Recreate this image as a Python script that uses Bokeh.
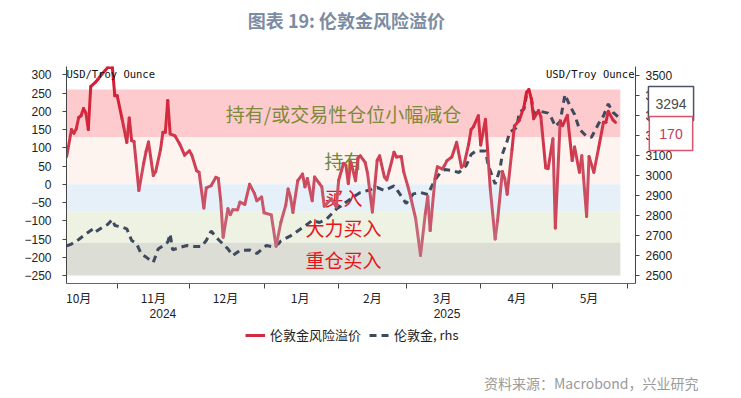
import numpy as np
import pandas as pd
from bokeh.plotting import figure
from bokeh.layouts import column
from bokeh.models import (Range1d, LinearAxis, DatetimeAxis, FixedTicker, Label, Div,
                          Legend, LegendItem, ColumnDataSource)
from bokeh.transform import linear_cmap
from bokeh.core.properties import value
from bokeh.embed import file_html
from bokeh.resources import INLINE

# ---------------- data ----------------
premium_dates = [
    "2024-10-11", "2024-10-13", "2024-10-14", "2024-10-15", "2024-10-16", "2024-10-17",
    "2024-10-18", "2024-10-19", "2024-10-20", "2024-10-21", "2024-10-23", "2024-10-24",
    "2024-10-25", "2024-10-27", "2024-10-28", "2024-10-30", "2024-10-31", "2024-11-01",
    "2024-11-03", "2024-11-05", "2024-11-06", "2024-11-07", "2024-11-08", "2024-11-10",
    "2024-11-12", "2024-11-13", "2024-11-14", "2024-11-16", "2024-11-17", "2024-11-19",
    "2024-11-20", "2024-11-21", "2024-11-22", "2024-11-23", "2024-11-25", "2024-11-27",
    "2024-11-29", "2024-12-01", "2024-12-02", "2024-12-04", "2024-12-05", "2024-12-07",
    "2024-12-08", "2024-12-10", "2024-12-12", "2024-12-13", "2024-12-14", "2024-12-15",
    "2024-12-17", "2024-12-18", "2024-12-19", "2024-12-21", "2024-12-22", "2024-12-24",
    "2024-12-26", "2024-12-28", "2024-12-29", "2024-12-31", "2025-01-01", "2025-01-04",
    "2025-01-06", "2025-01-08", "2025-01-10", "2025-01-11", "2025-01-12", "2025-01-13",
    "2025-01-15", "2025-01-17", "2025-01-18", "2025-01-19", "2025-01-21", "2025-01-22",
    "2025-01-24", "2025-01-25", "2025-01-26", "2025-01-29", "2025-01-31", "2025-02-01",
    "2025-02-03", "2025-02-04", "2025-02-05", "2025-02-06", "2025-02-08", "2025-02-09",
    "2025-02-10", "2025-02-12", "2025-02-13", "2025-02-15", "2025-02-16", "2025-02-17",
    "2025-02-18", "2025-02-20", "2025-02-21", "2025-02-22", "2025-02-24", "2025-02-25",
    "2025-02-27", "2025-02-28", "2025-03-02", "2025-03-03", "2025-03-05", "2025-03-07",
    "2025-03-09", "2025-03-10", "2025-03-11", "2025-03-13", "2025-03-14", "2025-03-16",
    "2025-03-17", "2025-03-18", "2025-03-20", "2025-03-22", "2025-03-24", "2025-03-25",
    "2025-03-27", "2025-03-28", "2025-03-29", "2025-03-31", "2025-04-01", "2025-04-03",
    "2025-04-04", "2025-04-05", "2025-04-07", "2025-04-08", "2025-04-10", "2025-04-11",
    "2025-04-12", "2025-04-14", "2025-04-15", "2025-04-17", "2025-04-19", "2025-04-20",
    "2025-04-21", "2025-04-22", "2025-04-23", "2025-04-25", "2025-04-26", "2025-04-28",
    "2025-04-29", "2025-05-01", "2025-05-02", "2025-05-04", "2025-05-05", "2025-05-07",
    "2025-05-09", "2025-05-10", "2025-05-12", "2025-05-13", "2025-05-15", "2025-05-16",
    "2025-05-18", "2025-05-20", "2025-05-22", "2025-05-23", "2025-05-24", "2025-05-26",
    "2025-05-27",
]
premium_values = [
    76, 150, 140, 152, 183, 188,
    208, 195, 150, 268, 280, 288,
    297, 312, 320, 320, 243, 243,
    180, 115, 182, 120, 117, -17,
    58, 90, 116, 24, 35, 95,
    143, 143, 230, 138, 133, 110,
    80, 92, 80, 37, 33, -65,
    -10, -4, 19, 16, -45, -145,
    -67, -83, -70, -70, -49, -55,
    0, -25, -45, -35, -78, -84,
    -170, -104, -58, -13, -36, -77,
    10, 28, -7, 16, -45, 20,
    2, -7, -60, -40, -62, 11,
    57, 52, 2, 62, 10, 72,
    78, 60, 30, -76, -5, 66,
    78, 20, 12, 37, 88, 75,
    76, 35, -12, -38, -95, -195,
    -80, -33, -127, 15, 48, 42,
    52, 65, 75, 115, 47, 52,
    110, 150, 158, 188, 108, 178,
    80, -15, -150, -100, 35, 15,
    -27, 95, 160, 175, 213, 252,
    260, 235, 180, 202, 185, 45,
    43, 125, -120, 172, 161, 189,
    65, 102, 33, 78, -88, 76,
    33, 100, 170, 170, 200, 176,
    170,
]

gold_dates = [
    "2024-10-11", "2024-10-13", "2024-10-16", "2024-10-19", "2024-10-22", "2024-10-23",
    "2024-10-26", "2024-10-28", "2024-10-30", "2024-10-31", "2024-11-03", "2024-11-05",
    "2024-11-07", "2024-11-09", "2024-11-11", "2024-11-13", "2024-11-16", "2024-11-18",
    "2024-11-20", "2024-11-22", "2024-11-23", "2024-11-24", "2024-11-27", "2024-11-30",
    "2024-12-03", "2024-12-06", "2024-12-08", "2024-12-10", "2024-12-13", "2024-12-17",
    "2024-12-19", "2024-12-22", "2024-12-26", "2024-12-29", "2025-01-02", "2025-01-04",
    "2025-01-07", "2025-01-08", "2025-01-12", "2025-01-15", "2025-01-18", "2025-01-21",
    "2025-01-24", "2025-01-27", "2025-01-31", "2025-02-03", "2025-02-08", "2025-02-10",
    "2025-02-13", "2025-02-17", "2025-02-20", "2025-02-24", "2025-02-26", "2025-03-01",
    "2025-03-04", "2025-03-07", "2025-03-10", "2025-03-13", "2025-03-15", "2025-03-17",
    "2025-03-20", "2025-03-23", "2025-03-26", "2025-03-28", "2025-03-30", "2025-04-03",
    "2025-04-04", "2025-04-06", "2025-04-07", "2025-04-09", "2025-04-10", "2025-04-12",
    "2025-04-13", "2025-04-16", "2025-04-17", "2025-04-19", "2025-04-20", "2025-04-21",
    "2025-04-22", "2025-04-23", "2025-04-26", "2025-04-29", "2025-04-30", "2025-05-02",
    "2025-05-04", "2025-05-06", "2025-05-08", "2025-05-10", "2025-05-12", "2025-05-15",
    "2025-05-17", "2025-05-20", "2025-05-22", "2025-05-24", "2025-05-26", "2025-05-28",
]
gold_values = [
    2648, 2657, 2680, 2708, 2733, 2718,
    2742, 2755, 2780, 2750, 2742, 2733,
    2675, 2660, 2608, 2592, 2566, 2632,
    2648, 2667, 2708, 2628, 2640, 2650,
    2645, 2645, 2675, 2722, 2680, 2633,
    2600, 2625, 2628, 2610, 2650, 2645,
    2658, 2673, 2698, 2723, 2748, 2775,
    2765, 2782, 2832, 2857, 2900, 2915,
    2925, 2940, 2925, 2948, 2915, 2860,
    2908, 2915, 2905, 2978, 3010, 3030,
    3025, 3015, 3050, 3105, 3123, 3123,
    3058, 2990, 2957, 3032, 3107, 3173,
    3215, 3240, 3315, 3332, 3400, 3400,
    3390, 3310, 3320, 3312, 3298, 3245,
    3270, 3405, 3350, 3305, 3232, 3195,
    3191, 3260, 3298, 3358, 3315, 3294,
]

band_edges = [260, 130, 0, -75, -160, -250]
band_labels = ["持有/或交易性仓位小幅减仓", "持有", "买入", "大力买入", "重仓买入"]
band_label_date = "2025-02-03"
band_start = "2024-10-11"
band_end = "2025-05-29"

month_labels = ["10月", "11月", "12月", "1月", "2月", "3月", "4月", "5月"]
month_label_dates = ["2024-10-16", "2024-11-16", "2024-12-16", "2025-01-16",
                     "2025-02-15", "2025-03-16", "2025-04-16", "2025-05-16"]
month_start_dates = ["2024-11-01", "2024-12-01", "2025-01-01", "2025-02-01",
                     "2025-03-01", "2025-04-01", "2025-05-01", "2025-06-01"]
year_labels = ["2024", "2025"]
year_label_dates = ["2024-11-20", "2025-03-18"]

left_ticks = [-250, -200, -150, -100, -50, 0, 50, 100, 150, 200, 250, 300]
right_ticks = [2500, 2600, 2700, 2800, 2900, 3000, 3100, 3200, 3300, 3400, 3500]

title_text = "图表 19: 伦敦金风险溢价"
source_text = "资料来源：Macrobond，兴业研究"
series_names = ["伦敦金风险溢价", "伦敦金, rhs"]

# ---------------- styles ----------------
band_colors = ["#FDCBCE", "#FDF3EF", "#E6F0F8", "#EDF2E3", "#DCDED6"]
band_text_colors = ["#7E8A3A", "#6E8A3A", "#E8141C", "#E8141C", "#E8141C"]
RED, GOLD = "#D22A40", "#3F4A5E"
CJK = "Noto Sans CJK SC"
W = 733
FR_L, FR_R = 66, 635          # frame edges in page pixels (strips share them)
TOP_H = 58
MAIN_BOTTOM = 40
MAIN_H = (66 - TOP_H) + 217 + MAIN_BOTTOM
LEG_H = 373 - TOP_H - MAIN_H
SRC_H = 398 - 373


def ms(d):
    return int(pd.Timestamp(d).value // 10**6)


def strip(h):
    f = figure(width=W, height=h, x_range=Range1d(FR_L, FR_R), y_range=Range1d(0, h),
               output_backend="svg", toolbar_location=None,
               min_border_left=0, min_border_right=0, min_border_top=0, min_border_bottom=0,
               x_axis_location=None, y_axis_location=None, title=None)
    f.xgrid.visible = False
    f.ygrid.visible = False
    f.outline_line_color = None
    return f


# ---------------- title strip ----------------
p0 = strip(TOP_H)
p0.add_layout(Label(x=361.5, y=TOP_H - 19, text=title_text, text_align="center",
                    text_baseline="middle", text_font=CJK, text_font_size="18px",
                    text_font_style="bold", text_color="#7C8CA3"))

# ---------------- main chart ----------------
x_start = pd.Timestamp("2024-11-01") - pd.Timedelta(days=21.06)
x_end = pd.Timestamp("2024-11-01") + pd.Timedelta(days=215.3)

p = figure(frame_width=569, frame_height=217, x_axis_type="datetime", title=None,
           x_range=Range1d(x_start.value / 1e6, x_end.value / 1e6),
           y_range=Range1d(-272, 323),
           output_backend="svg", toolbar_location=None,
           min_border_left=FR_L, min_border_right=W - FR_R,
           min_border_top=66 - TOP_H, min_border_bottom=MAIN_BOTTOM)
p.outline_line_color = None
p.xgrid.visible = False
p.ygrid.visible = False

bands = ColumnDataSource(dict(
    left=[pd.Timestamp(band_start)] * 5,
    right=[pd.Timestamp(band_end)] * 5,
    top=band_edges[:-1], bottom=band_edges[1:], color=band_colors))
p.quad(left="left", right="right", top="top", bottom="bottom",
       fill_color="color", line_color=None, source=bands)

mids = [(a + b) / 2 for a, b in zip(band_edges[:-1], band_edges[1:])]
txt = ColumnDataSource(dict(x=[pd.Timestamp(band_label_date)] * 5, y=mids,
                            t=band_labels, c=band_text_colors))
p.text(x="x", y="y", text="t", text_color="c", source=txt,
       text_font=value(CJK), text_font_size="19px",
       text_align="center", text_baseline="middle")

p.extra_y_ranges = {"gold": Range1d(2460, 3545)}
gsrc = ColumnDataSource(dict(x=pd.to_datetime(gold_dates), y=gold_values))
p.line("x", "y", source=gsrc, y_range_name="gold", line_color=GOLD,
       line_width=3, line_dash="7 5")

pd_dates = pd.to_datetime(premium_dates)
pv = np.array(premium_values, dtype=float)
seg = ColumnDataSource(dict(x0=pd_dates[:-1], x1=pd_dates[1:], y0=pv[:-1], y1=pv[1:],
                            v=(pv[:-1] + pv[1:]) / 2))
lo, hi = (196, 112, 130), (214, 30, 52)
palette = ["#%02x%02x%02x" % tuple(int(round(a + (b - a) * t)) for a, b in zip(lo, hi))
           for t in np.linspace(0, 1, 40)]
p.segment(x0="x0", y0="y0", x1="x1", y1="y1", source=seg, line_width=3,
          line_cap="round", line_color=linear_cmap("v", palette, low=-200, high=250))

ax_l = p.yaxis[0]
ax_l.ticker = FixedTicker(ticks=left_ticks)
ax_r = LinearAxis(y_range_name="gold", ticker=FixedTicker(ticks=right_ticks))
p.add_layout(ax_r, "right")
for ax in (ax_l, ax_r):
    ax.axis_line_color = "#444444"
    ax.major_tick_line_color = "#444444"
    ax.major_tick_out = 4
    ax.major_tick_in = 0
    ax.minor_tick_line_color = None
    ax.major_label_text_font = "Liberation Sans"
    ax.major_label_text_font_size = "12px"
    ax.major_label_text_color = "#222222"
ax_l.major_label_standoff = 11
ax_r.major_label_standoff = 6

ax_b = p.xaxis[0]
ax_b.ticker = FixedTicker(ticks=[ms(d) for d in month_label_dates],
                          minor_ticks=[ms(d) for d in month_start_dates])
ax_b.major_label_overrides = {ms(d): t for d, t in zip(month_label_dates, month_labels)}
ax_b.axis_line_color = "#666666"
ax_b.major_tick_line_color = None
ax_b.major_tick_out = 3
ax_b.minor_tick_line_color = "#444444"
ax_b.minor_tick_out = 5
ax_b.minor_tick_in = 0
ax_b.major_label_standoff = 0
ax_b.major_label_text_font = CJK
ax_b.major_label_text_font_size = "12px"
ax_b.major_label_text_color = "#222222"

ax_y = DatetimeAxis(ticker=FixedTicker(ticks=[ms(d) for d in year_label_dates]))
ax_y.major_label_overrides = {ms(d): t for d, t in zip(year_label_dates, year_labels)}
ax_y.axis_line_color = None
ax_y.major_tick_line_color = None
ax_y.minor_tick_line_color = None
ax_y.major_tick_out = 0
ax_y.major_tick_in = 0
ax_y.major_label_standoff = 0
ax_y.major_label_text_font = "Liberation Sans"
ax_y.major_label_text_font_size = "12px"
ax_y.major_label_text_color = "#222222"
p.add_layout(ax_y, "below")

for x, align in ((0, "left"), (568, "right")):
    p.add_layout(Label(x=x, y=210, x_units="screen", y_units="screen", text="USD/Troy Ounce",
                       text_font="DejaVu Sans Mono", text_font_size="10.5px",
                       text_color="#111111", text_align=align, text_baseline="middle"))

# last-value callouts in the right side panel (drawn over the right axis labels)
p.add_layout(Label(x=-4.5, y=180, x_units="screen", y_units="screen",
                   text=str(int(round(gold_values[-1]))), text_align="center",
                   text_baseline="middle", text_font="Liberation Sans", text_font_size="14px",
                   text_color="#4A4A4A", background_fill_color="white",
                   border_line_color="#4A5466", border_line_width=1.5, padding=(7, 12)), "right")
p.add_layout(Label(x=-49.5, y=150, x_units="screen", y_units="screen",
                   text=str(int(round(premium_values[-1]))), text_align="center",
                   text_baseline="middle", text_font="Liberation Sans", text_font_size="14px",
                   text_color="#C8385A", background_fill_color="white",
                   border_line_color="#D8546C", border_line_width=1.5, padding=(10, 12)), "right")

# ---------------- legend strip ----------------
p2 = strip(LEG_H)
r_red = p2.line(x=pd_dates, y=pv, line_color=RED, line_width=3)
r_gold = p2.line(x=pd.to_datetime(gold_dates), y=gold_values, line_color=GOLD,
                 line_width=3, line_dash="7 5")
legend = Legend(items=[LegendItem(label=series_names[0], renderers=[r_red]),
                       LegendItem(label=series_names[1], renderers=[r_gold])],
                orientation="horizontal", location=(245 - FR_L, LEG_H - 21),
                border_line_color=None, background_fill_alpha=0, padding=0, margin=0,
                spacing=8, glyph_width=20, glyph_height=14, label_standoff=5,
                label_height=14, label_text_font=CJK, label_text_font_size="13px",
                label_text_color="#222222")
p2.add_layout(legend)

# ---------------- source line ----------------
src = Div(text=source_text, width=260, height=SRC_H, margin=(0, 0, 0, 484),
          styles={"color": "#9A9A9A", "font-size": "14px", "font-family": CJK,
                  "line-height": "20px", "white-space": "nowrap"})

layout = column(p0, p, p2, src, spacing=0)
open("out.html", "w").write(file_html(layout, INLINE))
